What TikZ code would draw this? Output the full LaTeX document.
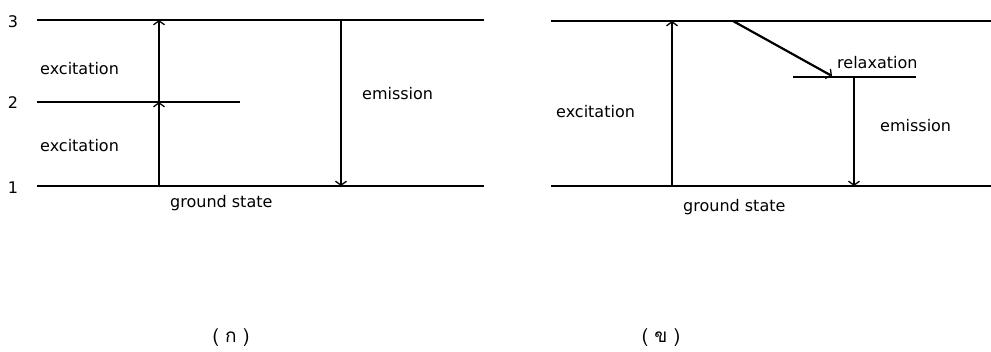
\documentclass[tikz,border=0pt]{standalone}
\usepackage{fontspec}
\setmainfont{DejaVu Sans}
\newfontfamily\thaifont[Script=Thai]{Loma}
\usetikzlibrary{arrows.meta}
\tikzset{
  level/.style={line width=1.6pt},
  trans/.style={line width=1.5pt,-{Straight Barb[length=4pt,width=11pt,line width=1.3pt]}},
  lbl/.style={inner sep=0pt,anchor=base west,font=\fontsize{16}{18}\selectfont},
  num/.style={inner sep=0pt,anchor=base,font=\fontsize{16}{18}\selectfont},
  captext/.style={inner sep=0pt,anchor=base,font=\thaifont\fontsize{19}{22}\selectfont}
}
\begin{document}
\begin{tikzpicture}[x=1pt,y=-1pt]
\useasboundingbox (0,0) rectangle (991,351);
% left panel levels
\coordinate (L3a) at (37,20);  \coordinate (L3b) at (484,20);
\coordinate (L2a) at (37,102); \coordinate (L2b) at (240,102);
\coordinate (L1a) at (37,186); \coordinate (L1b) at (484,186);
\draw[level] (L3a) -- (L3b);
\draw[level] (L2a) -- (L2b);
\draw[level] (L1a) -- (L1b);
\coordinate (EA1) at (159,186); \coordinate (EA2) at (159,102); \coordinate (EA3) at (159,20);
\draw[trans] (EA1) -- (EA2);
\draw[trans] (EA2) -- (EA3);
\coordinate (EM1) at (341,20); \coordinate (EM2) at (341,186);
\draw[trans] (EM1) -- (EM2);
\node[num] (n3) at (13,27) {3};
\node[num] (n2) at (13,108) {2};
\node[num] (n1) at (13,193) {1};
\node[lbl] (ex1) at (40,74) {excitation};
\node[lbl] (ex2) at (40,151) {excitation};
\node[lbl] (em1) at (362,99) {emission};
\node[lbl] (gs1) at (170,207) {ground state};
% right panel levels
\coordinate (R3a) at (551,21); \coordinate (R3b) at (991,21);
\coordinate (R1a) at (551,186); \coordinate (R1b) at (991,186);
\coordinate (RMa) at (793,77); \coordinate (RMb) at (916,77);
\draw[level] (R3a) -- (R3b);
\draw[level] (R1a) -- (R1b);
\draw[level,line width=1.3pt] (RMa) -- (RMb);
\coordinate (RX1) at (672,186); \coordinate (RX2) at (672,21);
\draw[trans] (RX1) -- (RX2);
\coordinate (RR1) at (733,21); \coordinate (RR2) at (832,76);
\draw[trans,line width=2.2pt] (RR1) -- (RR2);
\coordinate (RE1) at (854,77); \coordinate (RE2) at (854,186);
\draw[trans,line width=1.2pt] (RE1) -- (RE2);
\node[lbl] (ex3) at (556,117) {excitation};
\node[lbl] (rl) at (837,68) {relaxation};
\node[lbl] (em2) at (880,131) {emission};
\node[lbl] (gs2) at (683,211) {ground state};
% captions
\node[captext] (ca) at (231,342) {( ก )};
\node[captext] (cb) at (661,342) {( ข )};
\end{tikzpicture}
\end{document}
